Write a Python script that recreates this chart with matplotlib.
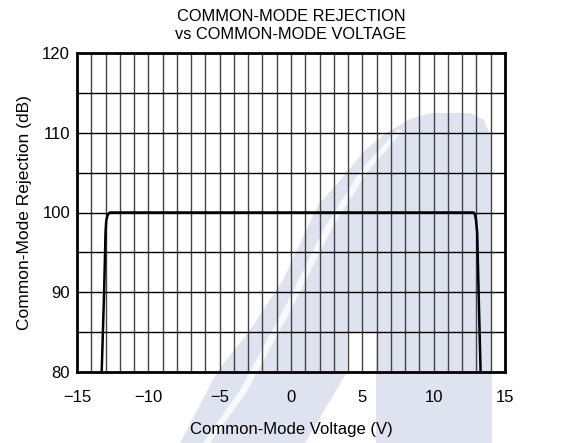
import matplotlib
matplotlib.use("Agg")
import matplotlib.pyplot as plt
from matplotlib.patches import Polygon

plt.rcParams['font.family'] = ['Liberation Sans', 'DejaVu Sans']

# curve
volts = [-13.27, -13.1, -13.0, -12.95, -12.85, -12.7, -12.5, 0.0, 12.6, 12.8, 12.9, 12.97, 13.05, 13.15, 13.29]
cmr_db = [80, 90, 97.5, 99.0, 99.7, 100, 100, 100, 100, 100, 99.7, 99.0, 97.5, 90, 80]

x_ticks = [-15, -10, -5, 0, 5, 10, 15]
y_ticks = [80, 90, 100, 110, 120]

W, H = 576, 443
fig = plt.figure(figsize=(W / 100, H / 100), dpi=100)


def px(pts):
    return [(x / W, 1 - y / H) for x, y in pts]


# light watermark behind the grid
wm = '#dfe3ef'
band = [(180, 443), (217, 372), (250, 330), (283, 280), (318, 205), (338, 183),
        (365, 150), (386, 133), (410, 119), (430, 113), (470, 113), (484, 120),
        (492, 140), (492, 443), (376, 443), (376, 333), (347, 333), (347, 372), (305, 443)]
fig.add_artist(Polygon(px(band), closed=True, transform=fig.transFigure,
                       facecolor=wm, edgecolor='none', zorder=-2))
stripe = [(203, 443), (240, 390), (286, 305), (326, 225), (361, 170), (397, 130),
          (403, 131), (367, 172), (332, 228), (292, 308), (246, 393), (210, 443)]
fig.add_artist(Polygon(px(stripe), closed=True, transform=fig.transFigure,
                       facecolor='white', edgecolor='none', alpha=0.8, zorder=-1))

ax = fig.add_axes([77 / W, 1 - 372 / H, (505 - 77) / W, (372 - 53) / H])
ax.set_facecolor('none')

for v in range(-14, 15):
    ax.axvline(v, color='#444444', lw=1.0, zorder=1)
for d in range(85, 120, 5):
    ax.axhline(d, color='black', lw=1.0, zorder=1)

ax.plot(volts, cmr_db, color='black', lw=1.8, zorder=3, solid_joinstyle='round')

ax.set_xlim(-15, 15)
ax.set_ylim(80, 120)
ax.set_xticks(x_ticks)
ax.set_yticks(y_ticks)
ax.tick_params(length=0, labelsize=12, colors='black')
ax.tick_params(axis='x', pad=13)
ax.tick_params(axis='y', pad=5)
for s in ax.spines.values():
    s.set_linewidth(2.0)
    s.set_zorder(4)

ax.set_xlabel('Common-Mode Voltage (V)', fontsize=12, labelpad=12)
ax.set_ylabel('Common-Mode Rejection (dB)', fontsize=12.5, labelpad=7)
ax.set_title('COMMON-MODE REJECTION\nvs COMMON-MODE VOLTAGE', fontsize=11.8, pad=10, linespacing=1.25)

fig.savefig('out.png', dpi=100)
